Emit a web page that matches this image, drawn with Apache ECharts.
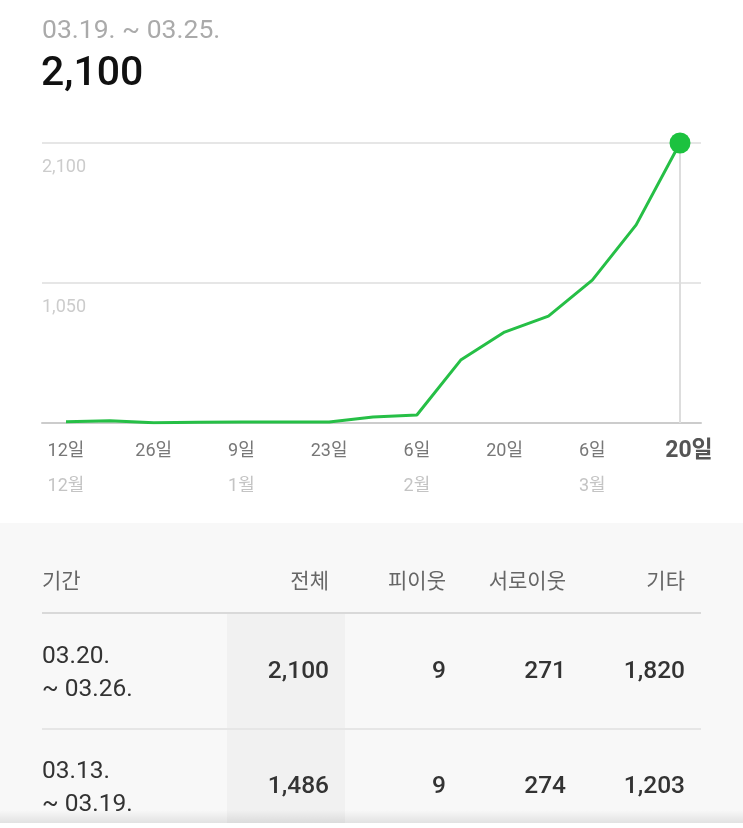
<!DOCTYPE html>
<html><head><meta charset="utf-8">
<script src="https://cdn.jsdelivr.net/npm/echarts@6/dist/echarts.min.js"></script>
<style>html,body{margin:0;padding:0;background:#fff}#c{width:743px;height:828px}</style>
</head><body><div id="c"></div>
<script>
var FONT = 'Roboto, "Noto Sans CJK KR", sans-serif';
var periodLabel = '03.19. ~ 03.25.';
var headlineValue = 2100;
var days = ['12일','19일','26일','2일','9일','16일','23일','30일','6일','13일','20일','27일','6일','13일','20일'];
var months = ['12월','','','','1월','','','','2월','','','','3월','',''];
var visits = [10, 17, 2, 6, 7, 7, 7, 45, 60, 472, 682, 802, 1072, 1486, 2100];
var yTicks = [0, 1050, 2100];
var headers = ['기간','전체','피이웃','서로이웃','기타'];
var periodsStart = ['03.20.','03.13.'];
var periodsEnd = ['~ 03.26.','~ 03.19.'];
var totals = [2100, 1486];
var pNeighbors = [9, 9];
var mutuals = [271, 274];
var others = [1820, 1203];

function fmt(n){ return n.toLocaleString('en-US'); }

var chart = echarts.init(document.getElementById('c'), null, {renderer:'canvas'});
var last = visits.length - 1;
var colX = [42, 329, 446, 566, 685];
var rowY = [672, 787];
var gfx = [];
gfx.push({type:'text', style:{text:periodLabel, x:42, y:31, font:'26.5px '+FONT, fill:'#aaaaaa', textVerticalAlign:'middle'}});
gfx.push({type:'text', style:{text:fmt(headlineValue), x:41, y:75, font:'500 41px '+FONT, fill:'#111111', textVerticalAlign:'middle'}});
gfx.push({type:'rect', shape:{x:0,y:523,width:743,height:300}, style:{fill:'#f8f8f8'}});
gfx.push({type:'rect', shape:{x:227,y:614,width:118,height:209}, style:{fill:'#f1f1f1'}});
gfx.push({type:'line', shape:{x1:42,y1:613,x2:701,y2:613}, style:{stroke:'#d9d9d9', lineWidth:2}});
gfx.push({type:'line', shape:{x1:42,y1:729,x2:701,y2:729}, style:{stroke:'#e6e6e6', lineWidth:2}});
headers.forEach(function(h,i){
  gfx.push({type:'text', style:{text:h, x:colX[i], y:583, font:'21px '+FONT, fill:'#666666', textAlign: i===0?'left':'right', textVerticalAlign:'middle'}});
});
for (var r=0;r<2;r++){
  gfx.push({type:'text', style:{text:periodsStart[r], x:42, y:rowY[r]-15, font:'24.5px '+FONT, fill:'#333333', textVerticalAlign:'middle'}});
  gfx.push({type:'text', style:{text:periodsEnd[r], x:42, y:rowY[r]+18, font:'24.5px '+FONT, fill:'#333333', textVerticalAlign:'middle'}});
  var vals = [totals[r], pNeighbors[r], mutuals[r], others[r]];
  vals.forEach(function(v,j){
    gfx.push({type:'text', style:{text:fmt(v), x:colX[j+1], y:rowY[r], font:'500 24.5px '+FONT, fill:'#333333', textAlign:'right', textVerticalAlign:'middle'}});
  });
}
gfx.push({type:'rect', shape:{x:0,y:810,width:743,height:13}, style:{fill:new echarts.graphic.LinearGradient(0,0,0,1,[{offset:0,color:'rgba(0,0,0,0)'},{offset:1,color:'rgba(0,0,0,0.09)'}])}});
gfx.push({type:'rect', shape:{x:0,y:823,width:743,height:5}, style:{fill:'#ffffff'}});

chart.setOption({
  animation:false,
  textStyle:{fontFamily:FONT},
  graphic:gfx,
  grid:[
    {left:42, right:42, top:143, height:280},
    {left:66, right:63, top:143, height:280}
  ],
  xAxis:[
    {gridIndex:0, type:'value', min:0, max:1, axisLine:{show:true, lineStyle:{color:'#cccccc', width:2}}, axisTick:{show:false}, axisLabel:{show:false}, splitLine:{show:false}},
    {gridIndex:1, type:'category', boundaryGap:false, data:days,
     axisLine:{show:false}, axisTick:{show:false}, splitLine:{show:false},
     axisLabel:{interval:1, margin:11, formatter:function(v,i){
        if(i===last) return '{last|'+v+'}\n{m|'+months[i]+'}';
        return '{d|'+v+'}\n{m|'+months[i]+'}';
     }, rich:{
        d:{fontSize:18, color:'#777777', lineHeight:35, fontFamily:FONT},
        last:{fontSize:23, fontWeight:'bold', color:'#555555', lineHeight:35, padding:[0,0,0,18], fontFamily:FONT},
        m:{fontSize:18, color:'#c4c4c4', lineHeight:35, fontFamily:FONT}
     }}}
  ],
  yAxis:[
    {gridIndex:0, type:'value', min:yTicks[0], max:yTicks[2], interval:yTicks[1],
     axisLine:{show:false}, axisTick:{show:false},
     splitLine:{show:true, lineStyle:{color:'#e6e6e6', width:2}},
     axisLabel:{inside:true, margin:0, verticalAlign:'top', padding:[15,0,0,0], lineHeight:18, fontSize:18, color:'#cccccc',
       formatter:function(v){ return v===0 ? '' : fmt(v); }}},
    {gridIndex:1, type:'value', min:yTicks[0], max:yTicks[2], interval:yTicks[1], show:false}
  ],
  series:[{
    type:'line', xAxisIndex:1, yAxisIndex:1,
    data: visits.map(function(v,i){ return i===last ? {value:v, symbol:'circle', symbolSize:21} : v; }),
    symbol:'none', showSymbol:true,
    lineStyle:{color:'#26bf46', width:3},
    itemStyle:{color:'#1cc23f'},
    markLine:{silent:true, symbol:'none', label:{show:false}, lineStyle:{color:'#dddddd', width:2, type:'solid'},
      data:[{xAxis:last}], z:1},
    z:5
  }]
});
</script></body></html>
